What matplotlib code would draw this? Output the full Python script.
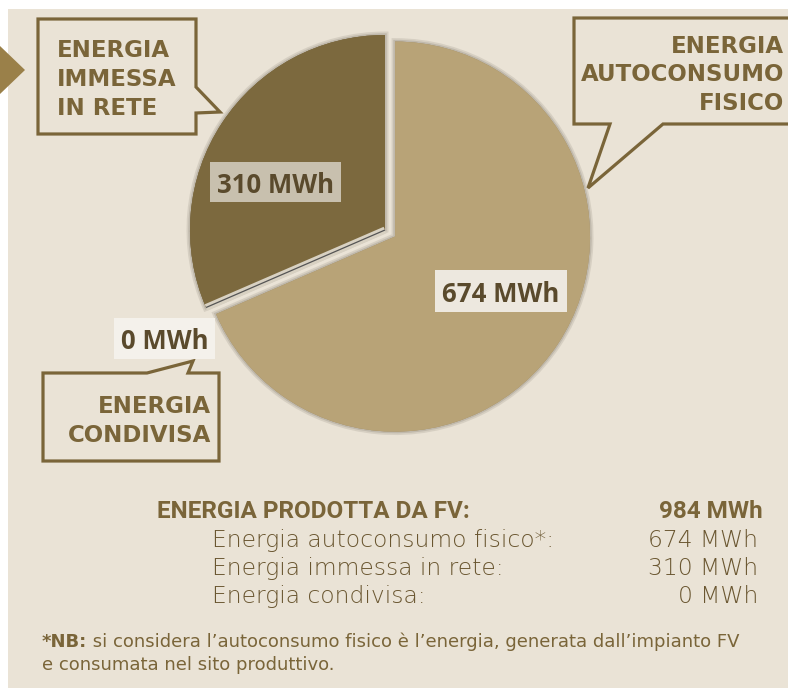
import matplotlib
matplotlib.use("Agg")
import matplotlib.pyplot as plt
from matplotlib.patches import Polygon, Rectangle
import matplotlib.patheffects as pe

# ---- data ----
categories = ["Energia immessa in rete", "Energia condivisa", "Energia autoconsumo fisico"]
values_mwh = [310, 0, 674]
total_mwh = 984
callout_titles = [["ENERGIA", "IMMESSA", "IN RETE"],
                  ["ENERGIA", "CONDIVISA"],
                  ["ENERGIA", "AUTOCONSUMO", "FISICO"]]
summary_title = "ENERGIA PRODOTTA DA FV:"
summary_rows = ["Energia autoconsumo fisico*:", "Energia immessa in rete:", "Energia condivisa:"]
summary_vals = [674, 310, 0]

# ---- style ----
W, H = 788, 688
BG = "#EAE3D6"
DARK = "#7C693E"
LIGHT = "#B8A377"
BROWN = "#7A6539"
ROW_COL = "#6A5630"
LABEL_TXT = "#5A4A2C"
BOLD_FONT = ["DejaVu Sans"]
HEAD_FONT = ["Roboto", "DejaVu Sans"]
LBL_FONT = ["Open Sans", "DejaVu Sans"]
ROW_FONT = ["DejaVu Sans"]

def Y(y):
    return H - y

fig = plt.figure(figsize=(W / 100, H / 100), dpi=100, facecolor="white")
ax = fig.add_axes([0, 0, 1, 1])

# background panel
ax.add_patch(Rectangle((8, 0), W, Y(9), facecolor=BG, edgecolor="none", zorder=0))
# left arrow marker
ax.add_patch(Polygon([(0, Y(46)), (25, Y(70)), (0, Y(94))], closed=True,
                     facecolor="#9A8049", edgecolor="none", zorder=1))

# ---- pie ----
cx, cy, R = 385, 230, 195
wedges, _ = ax.pie(values_mwh, startangle=90, counterclock=True,
                   center=(cx, Y(cy)), radius=R, explode=[0, 0, 12],
                   colors=[DARK, "#555555", LIGHT],
                   wedgeprops=dict(linewidth=0))
shadow = [pe.Stroke(linewidth=5, foreground=(0.5, 0.47, 0.42, 0.18)),
          pe.Stroke(linewidth=2.5, foreground=(0.5, 0.47, 0.42, 0.25)),
          pe.Normal()]
for w in wedges:
    w.set_zorder(2)
    w.set_path_effects(shadow)
wedges[1].set_edgecolor("#555555")
wedges[1].set_linewidth(0.9)
wedges[1].set_path_effects([pe.Stroke(linewidth=5, foreground="#D8D1C2"), pe.Normal()])
wedges[1].set_zorder(3)

ax.set_xlim(0, W)
ax.set_ylim(0, H)
ax.set_aspect("auto")
ax.axis("off")

# ---- value labels ----
def value_box(x0, x1, y0, y1, base, txt, fc):
    ax.add_patch(Rectangle((x0, Y(y1)), x1 - x0, y1 - y0, facecolor=fc,
                           edgecolor="none", zorder=5))
    ax.text((x0 + x1) / 2, Y(base), txt, ha="center", va="baseline",
            fontsize=18.5, fontweight="bold", family=LBL_FONT, color=LABEL_TXT, zorder=6)

value_box(210, 341, 162, 202, 193, f"{values_mwh[0]} MWh", "#C8C0AE")
value_box(435, 567, 270, 312, 302, f"{values_mwh[2]} MWh", "#EDE8DF")
value_box(114, 215, 318, 359, 349, f"{values_mwh[1]} MWh", "#F4F1EB")

# ---- callouts ----
def callout(points, zorder=4):
    ax.add_patch(Polygon([(x, Y(y)) for x, y in points], closed=True,
                         facecolor=BG, edgecolor=BROWN, linewidth=2.3,
                         joinstyle="miter", zorder=zorder))

callout([(38, 19), (196, 19), (196, 87), (220, 112), (196, 113), (196, 134), (38, 134)])
callout([(574, 18), (800, 18), (800, 124), (663, 124), (588, 188), (610, 124), (574, 124)])
callout([(43, 373), (147, 373), (193, 361), (188, 373), (219, 373), (219, 461), (43, 461)])

def lines(x, bases, texts, ha):
    for b, t in zip(bases, texts):
        ax.text(x, Y(b), t, ha=ha, va="baseline", fontsize=16.5, fontweight="bold",
                family=BOLD_FONT, color=BROWN, zorder=7)

lines(57, [57, 86, 115], callout_titles[0], "left")
lines(211, [413, 442], callout_titles[1], "right")
lines(784, [53, 81, 110], callout_titles[2], "right")

# ---- summary ----
ax.text(157, Y(518), summary_title, ha="left", va="baseline", fontsize=17.5,
        fontweight="bold", family=HEAD_FONT, color=BROWN, zorder=7)
ax.text(763, Y(518), f"{total_mwh} MWh", ha="right", va="baseline", fontsize=17.5,
        fontweight="bold", family=HEAD_FONT, color=BROWN, zorder=7)
for i, (lab, v) in enumerate(zip(summary_rows, summary_vals)):
    base = 547 + 28 * i
    ax.text(212, Y(base), lab, ha="left", va="baseline", fontsize=16.8,
            fontweight="light", family=ROW_FONT, color=ROW_COL, zorder=7)
    ax.text(758, Y(base), f"{v} MWh", ha="right", va="baseline", fontsize=16.8,
            fontweight="light", family=ROW_FONT, color=ROW_COL, zorder=7)

# ---- footnote ----
t1 = ax.text(42, Y(651), "*NB:", ha="left", va="bottom", fontsize=13,
             fontweight="bold", family=ROW_FONT, color=BROWN, zorder=7)
ax.annotate(" si considera l\u2019autoconsumo fisico è l\u2019energia, generata dall\u2019impianto FV",
            xy=(1, 0), xycoords=t1, ha="left", va="bottom", fontsize=13,
            family=ROW_FONT, color=BROWN, zorder=7)
ax.text(42, Y(674), "e consumata nel sito produttivo.", ha="left", va="bottom",
        fontsize=13, family=ROW_FONT, color=BROWN, zorder=7)

fig.savefig("out.png", dpi=100, facecolor="white")
